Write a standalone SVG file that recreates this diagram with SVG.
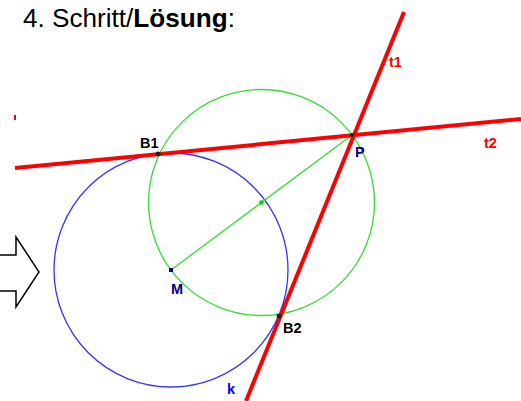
<svg xmlns="http://www.w3.org/2000/svg" width="521" height="401" viewBox="0 0 521 401">
<style>
.lbl{font-family:"Liberation Sans",Arial,sans-serif;font-weight:bold;font-size:14.5px}
.red{stroke:#ff0000;stroke-width:4;fill:none}
</style>
<rect width="521" height="401" fill="#fff"/>
<text x="23" y="27" font-family="'Liberation Sans',Arial,sans-serif" font-size="26" textLength="212" lengthAdjust="spacingAndGlyphs">4. Schritt/<tspan font-weight="bold">Lösung</tspan>:</text>
<g id="arrow"><path d="M0,255 H16 V237 L39,272 L16,307 V291 H0" fill="#fff" stroke="#000" stroke-width="1.5"/></g>
<g id="circle-k"><circle cx="171" cy="270" r="117" fill="none" stroke="#3333ff" stroke-width="1.3"/></g>
<g id="circle-thales"><circle cx="261.5" cy="202.5" r="113" fill="none" stroke="#33dd33" stroke-width="1.3"/></g>
<g id="connectors">
<line x1="171" y1="270" x2="352" y2="135" stroke="#33dd33" stroke-width="1.3"/>
<line class="red" x1="15" y1="168" x2="521" y2="119"/>
<line class="red" x1="404" y1="12" x2="246" y2="401"/>
<line x1="15" y1="115" x2="15" y2="120" stroke="#ff0000" stroke-width="2"/>
</g>
<g id="points">
<rect x="259.5" y="200.5" width="4" height="4" fill="#00cc00"/>
<rect x="169" y="268" width="4" height="4" fill="#000080"/>
<circle cx="158" cy="154" r="2.5" fill="#222"/>
<circle cx="279" cy="316" r="2.5" fill="#222"/>
<circle cx="352" cy="135" r="2" fill="#222"/>
</g>
<g id="labels">
<text class="lbl" x="389" y="67" fill="#ff0000">t1</text>
<text class="lbl" x="484" y="148" fill="#ff0000">t2</text>
<text class="lbl" x="140" y="148" fill="#000">B1</text>
<text class="lbl" x="355" y="157" fill="#000080">P</text>
<text class="lbl" x="171" y="294" fill="#000080">M</text>
<text class="lbl" x="283" y="333" fill="#000">B2</text>
<text class="lbl" x="227" y="394" fill="#0000ff">k</text>
</g>
</svg>
